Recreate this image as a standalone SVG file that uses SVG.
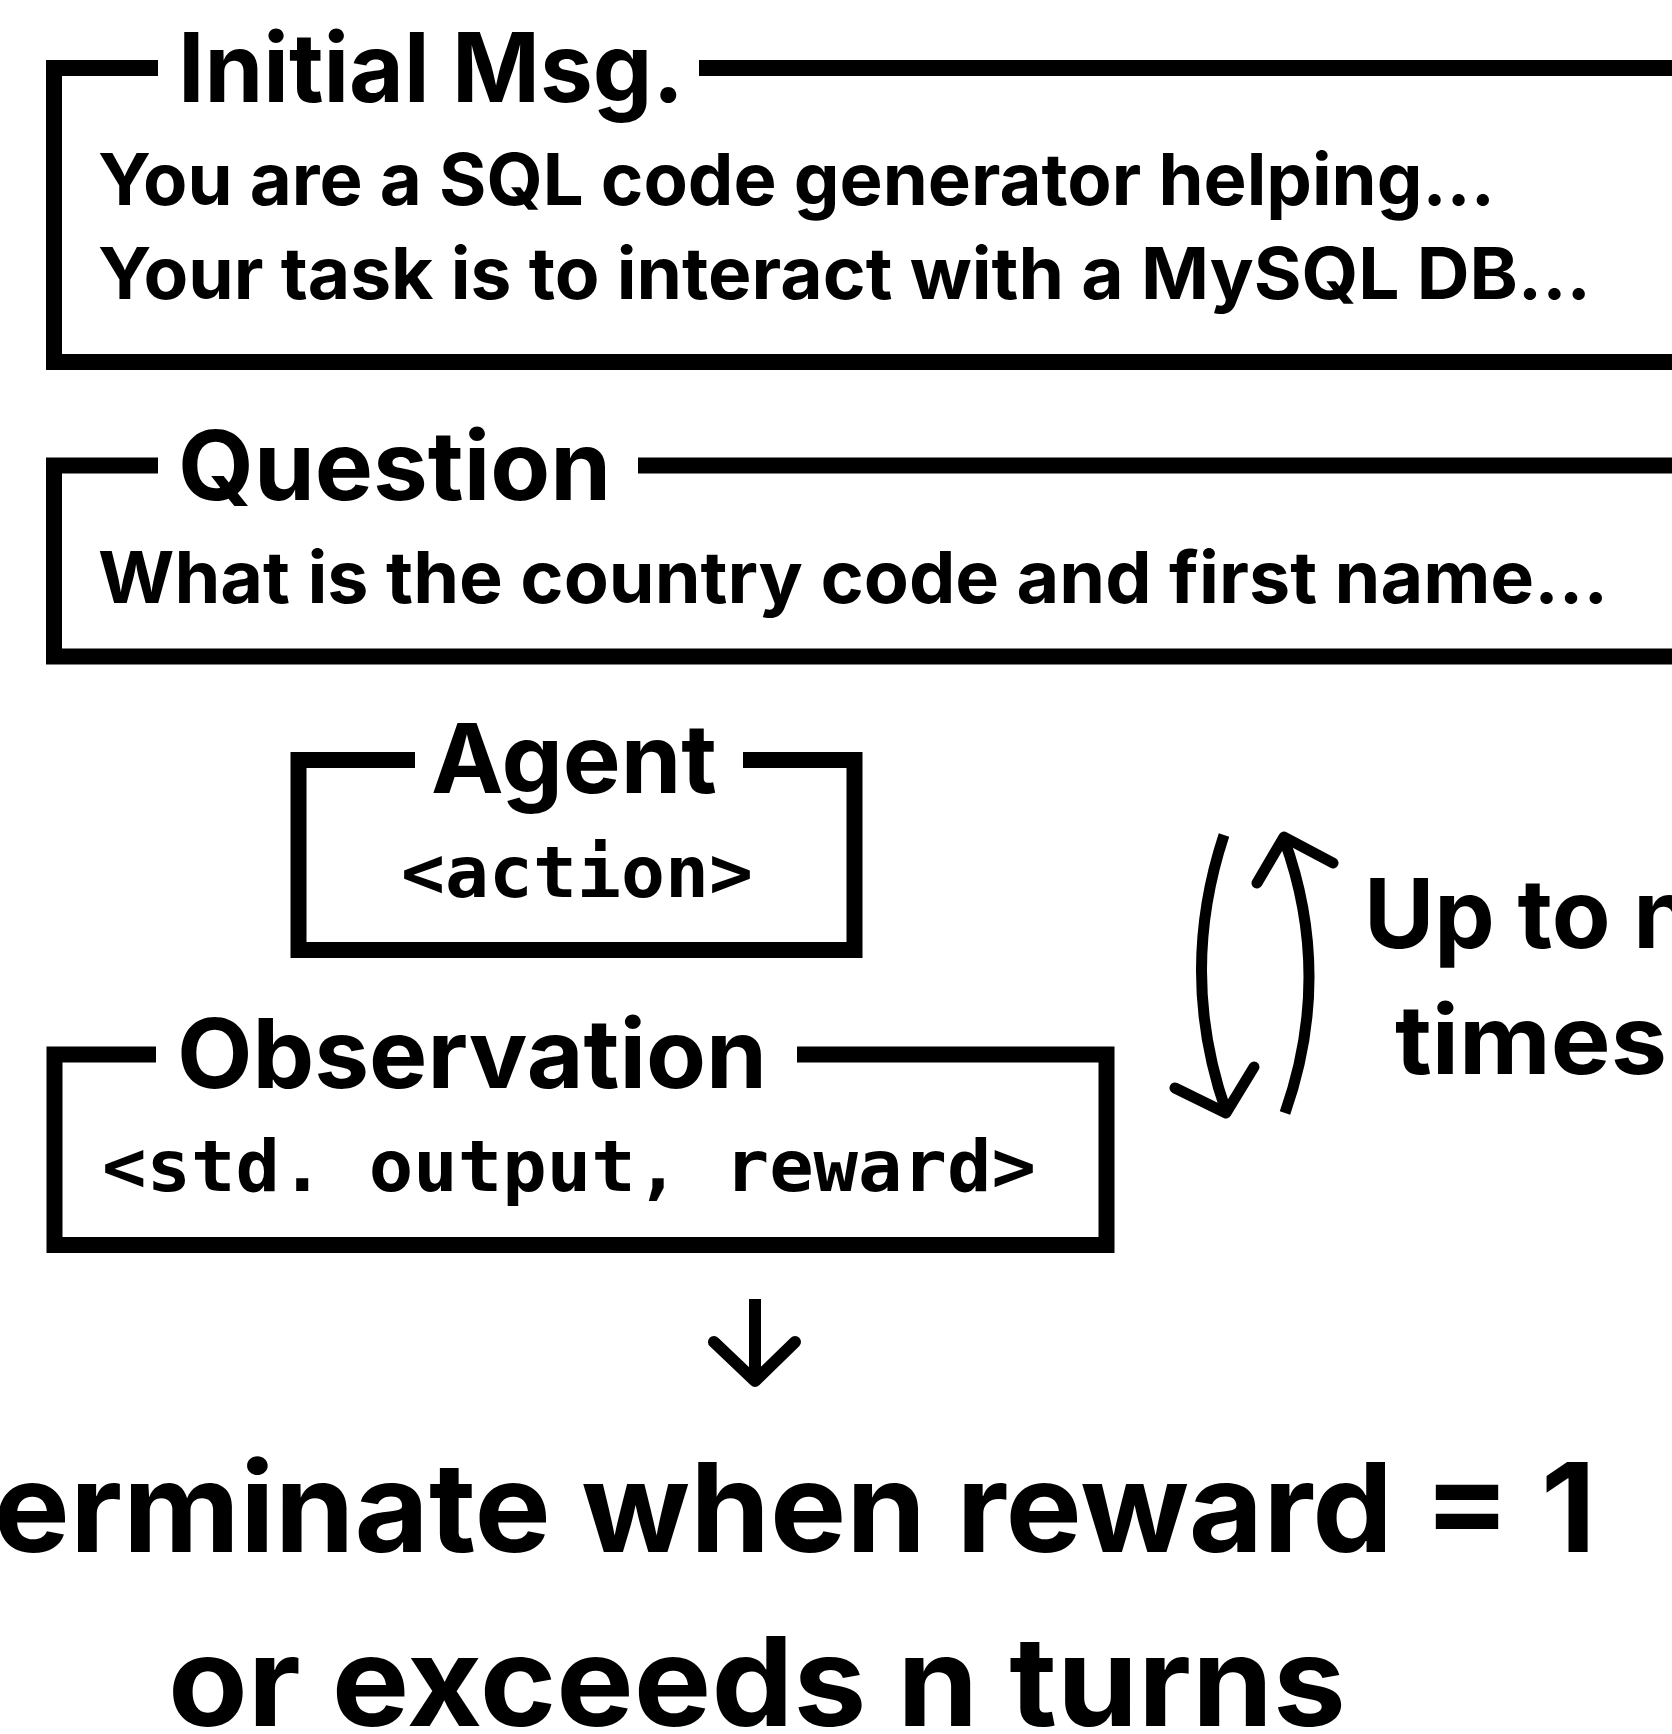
<svg xmlns="http://www.w3.org/2000/svg" width="1672" height="1734" viewBox="0 0 1672 1734">
  <style>
    .frame { fill: none; stroke: #000; stroke-width: 16; stroke-linejoin: miter; stroke-linecap: butt; }
    .title { font-family: Inter, "Liberation Sans", sans-serif; font-weight: 700; font-size: 96px; fill: #000; }
    .body { font-family: Inter, "Liberation Sans", sans-serif; font-weight: 700; font-size: 72px; fill: #000; }
    .mono { font-family: "DejaVu Sans Mono", "Liberation Mono", monospace; font-weight: 700; font-size: 72px; fill: #000; }
    .big { font-family: Inter, "Liberation Sans", sans-serif; font-weight: 700; font-size: 124px; fill: #000; }
    .shaft { fill: none; stroke: #000; stroke-width: 11; stroke-linecap: butt; }
    .head { fill: none; stroke: #000; stroke-width: 11; stroke-linecap: round; stroke-linejoin: round; }
  </style>
  <rect width="1672" height="1734" fill="#fff"/>

  <!-- system prompt frame -->
  <g id="initial-msg">
    <path class="frame" d="M158,68 H54 V362 H1700 V68 H699"/>
    <text class="title" x="178" y="102" textLength="506" lengthAdjust="spacingAndGlyphs">Initial Msg.</text>
    <text class="body" x="98" y="205" textLength="1397" lengthAdjust="spacingAndGlyphs">You are a SQL code generator helping...</text>
    <text class="body" x="98" y="299" textLength="1493" lengthAdjust="spacingAndGlyphs">Your task is to interact with a MySQL DB...</text>
  </g>

  <!-- task question frame -->
  <g id="question">
    <path class="frame" d="M158,465.5 H54 V656.5 H1700 V465.5 H638"/>
    <text class="title" x="178" y="500" textLength="433" lengthAdjust="spacingAndGlyphs">Question</text>
    <text class="body" x="98" y="603" textLength="1510" lengthAdjust="spacingAndGlyphs">What is the country code and first name...</text>
  </g>

  <!-- agent frame -->
  <g id="agent">
    <path class="frame" d="M415,760 H298.5 V950 H854.5 V760 H743"/>
    <text class="title" x="431" y="793" textLength="286" lengthAdjust="spacingAndGlyphs">Agent</text>
    <text class="mono" x="401" y="897" textLength="352" lengthAdjust="spacingAndGlyphs">&lt;action&gt;</text>
  </g>

  <!-- observation frame -->
  <g id="observation">
    <path class="frame" d="M156,1054.5 H54.5 V1245 H1106.5 V1054.5 H797"/>
    <text class="title" x="177" y="1088" textLength="590" lengthAdjust="spacingAndGlyphs">Observation</text>
    <text class="mono" x="102" y="1191" textLength="934" lengthAdjust="spacingAndGlyphs">&lt;std. output, reward&gt;</text>
  </g>

  <!-- loop label -->
  <g id="loop-label">
    <text class="title" x="1364" y="948">Up to n</text>
    <text class="title" x="1395" y="1074" textLength="272" lengthAdjust="spacingAndGlyphs">times</text>
  </g>

  <!-- termination condition -->
  <g id="terminate">
    <text class="big" x="757" y="1552" text-anchor="middle" textLength="1678" lengthAdjust="spacingAndGlyphs">Terminate when reward = 1</text>
    <text class="big" x="757" y="1726" text-anchor="middle" textLength="1178" lengthAdjust="spacingAndGlyphs">or exceeds n turns</text>
  </g>

  <g id="connectors">
    <!-- agent to observation -->
    <path class="shaft" d="M1224,835 Q1178,974 1226,1111"/>
    <path class="head" d="M1175,1088 L1226,1113 L1254,1067"/>
    <!-- observation back to agent -->
    <path class="shaft" d="M1285,1113 Q1333.5,975 1284,839"/>
    <path class="head" d="M1257,883 L1284,837 L1333,863"/>
    <!-- exit to termination -->
    <path class="shaft" d="M755,1299 V1380" style="stroke-width:12"/>
    <path class="head" d="M714,1342 L755,1381 L795,1342" style="stroke-width:12"/>
  </g>
</svg>
